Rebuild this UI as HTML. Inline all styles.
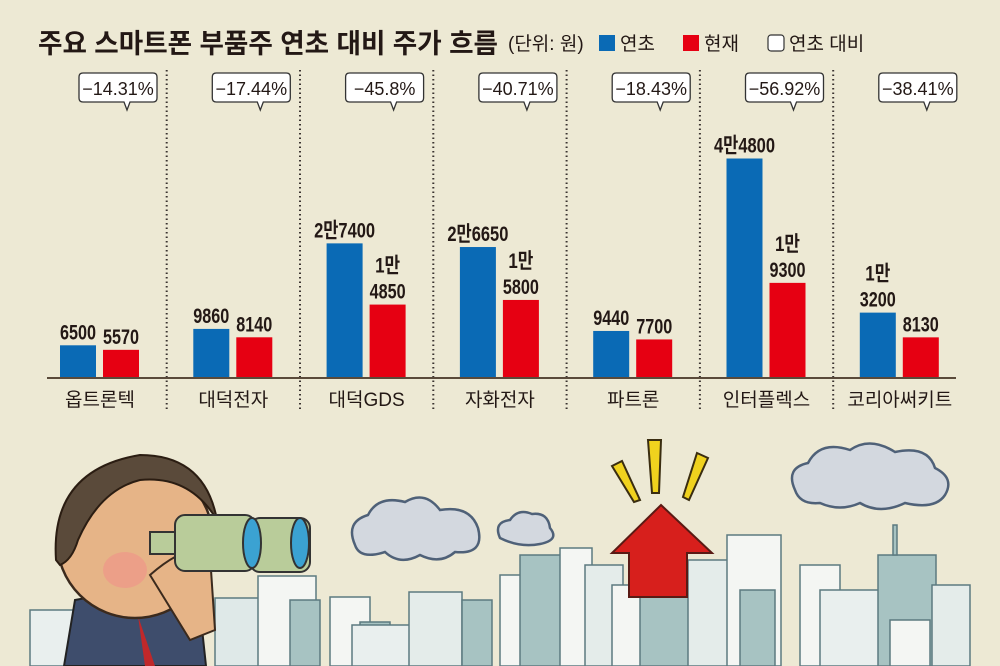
<!DOCTYPE html>
<html><head><meta charset="utf-8">
<style>
html,body{margin:0;padding:0;background:#ede9d4;}
svg{display:block;}
text{font-family:"Liberation Sans","Noto Sans CJK KR",sans-serif;}
.val{font-family:"Liberation Sans","Noto Sans CJK KR",sans-serif;font-weight:bold;font-size:21px;fill:#231815;}
</style></head>
<body>
<svg id="chart" width="1000" height="666" viewBox="0 0 1000 666">
<rect width="1000" height="666" fill="#ede9d4"/>
<text x="38" y="53" font-size="27" font-weight="bold" fill="#231815" textLength="460" lengthAdjust="spacingAndGlyphs">주요 스마트폰 부품주 연초 대비 주가 흐름</text>
<g>
<text x="508" y="50" font-size="19" fill="#231815">(단위: 원)</text>
<rect x="599" y="35" width="16" height="16" fill="#0a6ab5"/>
<text x="620" y="50" font-size="19" fill="#231815">연초</text>
<rect x="683" y="35" width="16" height="16" fill="#e60012"/>
<text x="704" y="50" font-size="19" fill="#231815">현재</text>
<rect x="768" y="35" width="16" height="16" rx="3" fill="#fff" stroke="#333" stroke-width="1.2"/>
<text x="789" y="50" font-size="19" fill="#231815">연초 대비</text>
</g>
<g id="plot"></g>
<g id="illus">
  <g fill="#d3d8df" stroke="#4f6178" stroke-width="2.5">
    <path d="M355 545 Q345 522 368 515 Q378 495 405 502 Q425 490 440 510 Q470 505 478 528 Q485 555 455 552 Q440 565 420 555 Q400 566 385 552 Q360 560 355 545Z"/>
    <path d="M500 538 Q493 522 510 520 Q518 508 532 514 Q548 512 550 528 Q560 540 540 544 Q520 548 500 538Z"/>
    <path d="M795 490 Q785 468 808 463 Q820 440 850 450 Q870 436 895 452 Q928 445 935 468 Q955 478 945 495 Q935 510 905 503 Q880 515 860 503 Q840 512 820 503 Q800 505 795 490Z"/>
  </g>
  <g stroke="#5c7a80" stroke-width="1.5">
    <rect x="30" y="610" width="55" height="56" fill="#e9efee"/>
    <rect x="215" y="598" width="60" height="68" fill="#dfe9e8"/>
    <rect x="258" y="576" width="58" height="90" fill="#f4f6f3"/>
    <rect x="290" y="600" width="30" height="66" fill="#a7c3c2"/>
    <rect x="330" y="597" width="40" height="69" fill="#f4f6f3"/>
    <rect x="360" y="622" width="30" height="44" fill="#a7c3c2"/>
    <rect x="352" y="625" width="60" height="41" fill="#e9efee"/>
    <rect x="409" y="592" width="53" height="74" fill="#e4ecea"/>
    <rect x="462" y="600" width="30" height="66" fill="#a7c3c2"/>
    <rect x="500" y="575" width="60" height="91" fill="#f4f6f3"/>
    <rect x="520" y="555" width="42" height="111" fill="#a7c3c2"/>
    <rect x="560" y="548" width="32" height="118" fill="#f4f6f3"/>
    <rect x="585" y="565" width="38" height="101" fill="#e4ecea"/>
    <rect x="612" y="585" width="44" height="81" fill="#f4f6f3"/>
    <rect x="640" y="596" width="50" height="70" fill="#a7c3c2"/>
    <rect x="688" y="560" width="45" height="106" fill="#e4ecea"/>
    <rect x="727" y="535" width="54" height="131" fill="#f4f6f3"/>
    <rect x="740" y="590" width="35" height="76" fill="#a7c3c2"/>
    <rect x="800" y="565" width="40" height="101" fill="#f4f6f3"/>
    <rect x="820" y="590" width="60" height="76" fill="#e9efee"/>
    <rect x="878" y="555" width="58" height="111" fill="#a7c3c2"/>
    <rect x="890" y="620" width="40" height="46" fill="#f4f6f3"/>
    <rect x="932" y="585" width="38" height="81" fill="#e4ecea"/>
    <rect x="893" y="525" width="4" height="30" fill="#a7c3c2"/>
  </g>
  <path d="M661 505 L712 553 L687 553 L687 597 L629 597 L629 553 L612 553Z" fill="#d71f1c" stroke="#5a1a14" stroke-width="2"/>
  <g fill="#f0d21e" stroke="#3a2d10" stroke-width="2">
    <path d="M612 466 L622 461 L640 500 L634 502Z"/>
    <path d="M648 440 L661 440 L659 493 L652 493Z"/>
    <path d="M697 453 L708 458 L689 500 L683 497Z"/>
  </g>
  <g>
    <path d="M64 666 L75 600 L130 590 L200 610 L206 666Z" fill="#3e4d6c" stroke="#222" stroke-width="2"/>
    <path d="M138 616 L155 666 L145 666Z" fill="#c0282a"/>
    <ellipse cx="135" cy="540" rx="78" ry="78" fill="#e6b487" stroke="#3b2a1d" stroke-width="2.5"/>
    <path d="M56 560 Q50 470 140 455 Q205 455 217 520 Q190 475 140 480 Q100 490 78 540 Q72 560 60 565Z" fill="#5a4a3a" stroke="#2b1d12" stroke-width="2"/>
    <ellipse cx="125" cy="570" rx="22" ry="18" fill="#ee9a88" opacity="0.8"/>
    <path d="M150 575 Q190 540 210 555 L215 630 L190 640 Z" fill="#e6b487" stroke="#3b2a1d" stroke-width="2"/>
    <rect x="150" y="532" width="30" height="22" fill="#b9cc9a" stroke="#333" stroke-width="2"/>
    <rect x="175" y="515" width="80" height="56" rx="10" fill="#b9cc9a" stroke="#333" stroke-width="2"/>
    <rect x="250" y="518" width="60" height="54" rx="10" fill="#b9cc9a" stroke="#333" stroke-width="2"/>
    <ellipse cx="252" cy="543" rx="9" ry="25" fill="#3ba2d2" stroke="#333" stroke-width="2"/>
    <ellipse cx="300" cy="543" rx="9" ry="25" fill="#3ba2d2" stroke="#333" stroke-width="2"/>
  </g>
</g>
</svg>
<script>
const categories = ["옵트론텍","대덕전자","대덕GDS","자화전자","파트론","인터플렉스","코리아써키트"];
const startValues = [6500, 9860, 27400, 26650, 9440, 44800, 13200];
const nowValues = [5570, 8140, 14850, 15800, 7700, 19300, 8130];
const changeLabels = ["−14.31%","−17.44%","−45.8%","−40.71%","−18.43%","−56.92%","−38.41%"];
const startLabels = [["6500"],["9860"],["2만7400"],["2만6650"],["9440"],["4만4800"],["1만","3200"]];
const nowLabels = [["5570"],["8140"],["1만","4850"],["1만","5800"],["7700"],["1만","9300"],["8130"]];

const NS = "http://www.w3.org/2000/svg";
const plot = document.getElementById("plot");
const baseY = 377, pxPer = 238 / 48800;
function yScale(v){ return baseY - v * pxPer; }
function xCenter(i){ return 100 + i * 133.3; }
function mk(tag, attrs){ const e = document.createElementNS(NS, tag); for (const k in attrs) e.setAttribute(k, attrs[k]); return e; }

for (let i = 0; i < categories.length - 1; i++) {
  const x = xCenter(i) + 66.7;
  const d = mk("line", {x1:x, x2:x, y1:70, y2:412, stroke:"#3a3330", "stroke-width":2, "stroke-dasharray":"1.5,3"});
  
  
  plot.appendChild(d);
}

function textWidth(s){
  let w = 0;
  for (const ch of s) w += /[0-9]/.test(ch) ? 9 : 16;
  return w;
}
function valueLabel(lines, cx, topY, name){
  const n = lines.length;
  lines.forEach((s, k) => {
    const t = mk("text", {x:cx, y: topY - 6 - (n - 1 - k) * 26, "text-anchor":"middle", class:"val", textLength:textWidth(s), lengthAdjust:"spacingAndGlyphs"});
    t.textContent = s;
    
    
    plot.appendChild(t);
  });
}

categories.forEach((c, i) => {
  const cx = xCenter(i);
  const y1 = yScale(startValues[i]);
  const b1 = mk("rect", {x:cx-40, y:y1, width:36, height:baseY-y1, fill:"#0a6ab5"});
  
  
  plot.appendChild(b1);
  const y2 = yScale(nowValues[i]);
  const b2 = mk("rect", {x:cx+3, y:y2, width:36, height:baseY-y2, fill:"#e60012"});
  
  
  plot.appendChild(b2);
  valueLabel(startLabels[i], cx-22, y1, 'value-label-start');
  valueLabel(nowLabels[i], cx+21, y2, 'value-label-now');

  const lab = mk("text", {x:cx, y:406, "text-anchor":"middle", "font-size":19, fill:"#231815"});
  lab.textContent = c;
  
  
  plot.appendChild(lab);

  const bx = cx - 21, tx = cx + 27;
  const box = mk("path", {d:`M${bx+4} 73 H${bx+74} Q${bx+78} 73 ${bx+78} 77 V98 Q${bx+78} 102 ${bx+74} 102 H${tx+3} L${tx} 110 L${tx-3} 102 H${bx+4} Q${bx} 102 ${bx} 98 V77 Q${bx} 73 ${bx+4} 73Z`, fill:"#fff", stroke:"#333", "stroke-width":1.3});
  
  
  plot.appendChild(box);
  const ct = mk("text", {x:bx+39, y:95, "text-anchor":"middle", "font-size":18, fill:"#231815"});
  ct.textContent = changeLabels[i];
  
  
  plot.appendChild(ct);
});

const axis = mk("line", {x1:47, x2:956, y1:baseY+1, y2:baseY+1, stroke:"#5a4a3a", "stroke-width":2});


plot.appendChild(axis);
</script>
</body></html>
